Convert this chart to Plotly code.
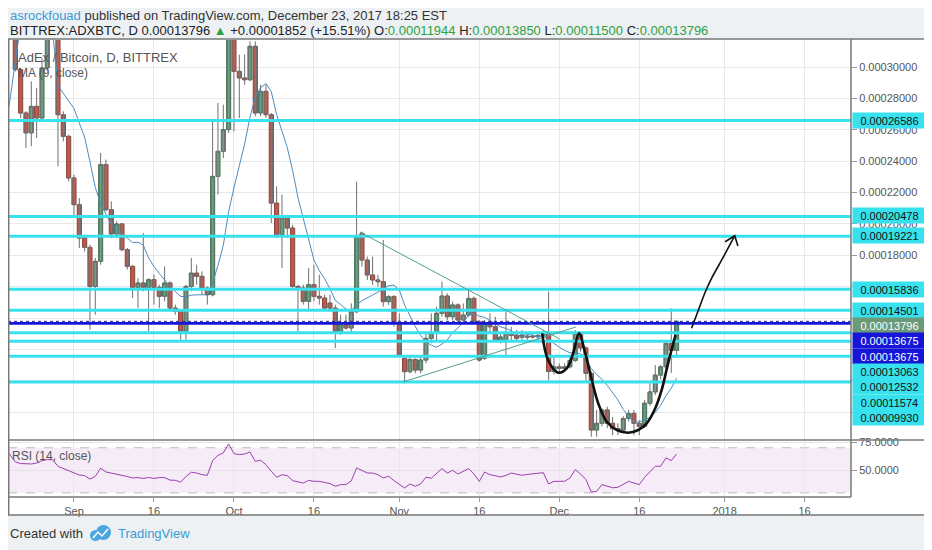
"""
AdEx / Bitcoin (BITTREX:ADXBTC) daily chart with drawn levels, rebuilt in Plotly.
"""

import pandas as pd
import plotly.graph_objects as go

FIRST_DAY = pd.Timestamp("2017-08-21")
SAT = 1e-8  # prices below are in satoshi

# ── Daily candles, Aug 21 .. Dec 23 2017 (satoshi) ─────────────────────────

opens = [
    32700, 29830, 27070, 25800, 27490, 26750, 29940, 32490, 32900, 26960,
    25580, 22930, 21230, 19100, 18510, 16020, 17620, 23780, 20910, 19360,
    20000, 18360, 17300, 15960, 16240, 15960, 16450, 15960, 15390, 16240,
    14640, 14430, 13160, 16020, 16870, 16660, 15920, 15490, 23030, 24630,
    26010, 32490, 29720, 29300, 29190, 31320, 27070, 28450, 26960, 21330,
    19320, 20380, 19740, 16020, 15920, 15070, 16130, 15390, 15280, 14960,
    14640, 13160, 13580, 13370, 14410, 19400, 17700, 16750, 16430, 16320,
    15050, 15370, 13670, 11440, 10590, 11370, 10690, 11330, 12710, 13030,
    14310, 15410, 14090, 14840, 13880, 14200, 15260, 13770, 11440, 13670,
    13450, 12600, 12500, 13030, 12920, 12930, 12780, 12850, 12800, 12900,
    13030, 10600, 10900, 10800, 10900, 11300, 13030, 12100, 10480, 6870,
    7300, 8150, 7300, 6950, 6870, 7600, 7930, 7300, 7100, 8580,
    9300, 10370, 10900, 12390, 11944,
]
highs = [
    33550, 29940, 27180, 29090, 28660, 30570, 33120, 33760, 33120, 27180,
    25690, 23140, 21650, 19320, 18680, 17830, 24520, 24100, 21440, 20170,
    20060, 18470, 17400, 16550, 19420, 16550, 16770, 16130, 17300, 16340,
    14860, 14540, 16130, 17830, 17400, 16980, 16020, 26540, 27710, 27600,
    33120, 33120, 30790, 30790, 31640, 31640, 28870, 28870, 27070, 22400,
    21870, 20590, 19950, 16130, 16130, 17190, 17400, 16770, 15490, 15490,
    14860, 14220, 14220, 14940, 22700, 19510, 17920, 17920, 16750, 18980,
    15470, 15470, 14310, 11540, 11540, 11440, 11540, 13030, 14300, 14730,
    16330, 15580, 15050, 14940, 14940, 15900, 15370, 13880, 13880, 14300,
    14090, 13030, 14410, 13450, 13240, 13240, 13030, 13100, 13030, 13240,
    15690, 11550, 11120, 11120, 11550, 13240, 13100, 12200, 10600, 8150,
    8250, 8360, 7700, 7300, 7750, 8150, 8150, 7500, 8780, 9850,
    11010, 11020, 12610, 14620, 13850,
]
lows = [
    29720, 26750, 24840, 24950, 25480, 26540, 29720, 32000, 23670, 25260,
    22720, 20590, 18470, 18250, 13260, 14220, 17400, 20800, 19100, 19100,
    18250, 17090, 15280, 14640, 15710, 13160, 14860, 14640, 15070, 14540,
    14220, 12630, 12630, 15710, 16130, 15490, 14860, 15390, 21870, 24200,
    25800, 25900, 26750, 28870, 29090, 26860, 26860, 26750, 20060, 19100,
    17190, 19100, 15920, 13160, 14860, 14430, 15070, 14860, 14540, 14430,
    12100, 12940, 13260, 13030, 14300, 17280, 16430, 16110, 16000, 14730,
    14840, 13450, 11540, 9840, 10480, 10480, 10480, 11120, 12400, 12500,
    14090, 13880, 13880, 13670, 13770, 14090, 13670, 11230, 11330, 13030,
    12500, 12390, 11650, 12600, 12500, 12600, 12600, 12700, 12600, 12700,
    10060, 10400, 10480, 10590, 10800, 11200, 11860, 10000, 6450, 6450,
    7100, 7000, 6550, 6550, 6700, 7400, 6550, 6550, 7000, 8400,
    9100, 10100, 10700, 10500, 11500,
]
closes = [
    29830, 27070, 25800, 27490, 26750, 29940, 32490, 32900, 26960, 25580,
    22930, 21230, 19100, 18510, 16020, 17620, 23780, 20910, 19360, 20000,
    18360, 17300, 15960, 16240, 15960, 16450, 15960, 15390, 16240, 14640,
    14430, 13160, 16020, 16870, 16660, 15920, 15490, 23030, 24630, 26010,
    32490, 29720, 29300, 29190, 31320, 27070, 28450, 26960, 21330, 19320,
    20380, 19740, 16020, 15920, 15070, 16130, 15390, 15280, 14640, 14640,
    13160, 13580, 13370, 14410, 19190, 17700, 16750, 16430, 16320, 15050,
    15370, 13670, 11650, 10590, 11370, 10690, 11330, 12710, 13030, 14310,
    15410, 14090, 14840, 13880, 14200, 15260, 13770, 11330, 13670, 13450,
    12600, 12800, 13030, 12900, 12710, 12780, 12850, 12800, 12900, 13030,
    10600, 10900, 10800, 10900, 11300, 13030, 12100, 10480, 6870, 7300,
    8150, 7300, 6950, 6870, 7600, 7930, 7300, 7100, 8580, 9300,
    10370, 10900, 12390, 11944, 13796,
]

# MA(9) before nine visible closes exist, Aug 19 .. Aug 28
ma_head = [26000, 27900, 30350, 32700, 34000, 34600, 34500, 34000, 33200, 32300]

# RSI(14), Aug 19 .. Dec 23
rsi = [
    70, 64, 57.5, 56, 55.9, 55.6, 56.5, 58.6, 59.5, 59.3, 53.5,
    51.5, 50, 48, 45.8, 45.3, 42.2, 44.7, 51.8, 48.5, 47.6,
    46.4, 45.5, 44.5, 43.2, 43.5, 42.8, 43.6, 42.8, 43.5, 43.5,
    41.3, 41.1, 39.5, 44.5, 48.3, 47.6, 46.2, 45.5, 58.6, 63.3,
    65.4, 73.4, 64.8, 63.9, 64.5, 66.3, 58, 58.9, 55, 49.1,
    43.8, 46.1, 45.3, 40.8, 39.6, 38.7, 41.1, 40.2, 40.2, 39.3,
    38.2, 35.8, 37.3, 37.3, 40.6, 52.1, 49.7, 47.6, 47.6, 46.1,
    43.2, 44.7, 40.8, 37.3, 34.3, 37.9, 35.8, 37.9, 43.8, 43,
    47.6, 51.5, 47.6, 50, 46.7, 49.1, 51.5, 46.7, 40.2, 48.5,
    46.1, 45.2, 44.1, 45.5, 47.6, 46.5, 45.6, 46.3, 47, 47.4,
    47.9, 37.9, 40.2, 40.2, 40.3, 43.2, 50.6, 46.7, 41.7, 30.7,
    31.3, 37.3, 35.8, 34.5, 34.9, 37.9, 40.2, 38.7, 37.3, 43.8,
    48.5, 53.6, 53.6, 61, 58.6, 64.5,
]

# horizontal levels drawn by the author (satoshi)
cyan_levels = [26586, 20478, 19221, 15836, 14501, 13063, 12532, 11574, 9930]
blue_levels = [13675, 13675]
last_price = 13796

# hand drawings, x in days after Aug 21
tri_upper_day = [64.6, 102.1]
tri_upper_sat = [19490, 12670]
tri_lower_day = [72.7, 105.1]
tri_lower_sat = [9931, 13435]
cup_day = [98.8, 99.9, 101.8, 103.4, 104.6, 105.7, 106.8, 108.1, 109.3,
           110.9, 112.8, 114.9, 116.8, 118.4, 120.0, 121.2, 122.4, 123.8]
cup_sat = [13034, 11333, 10524, 10804, 11760, 13034, 11862, 10059, 8574,
           7402, 6874, 6701, 6874, 7300, 8256, 9422, 11122, 12926]
arrow_day = [126.8, 128.1, 129.3, 130.6, 132.8, 134.9]
arrow_sat = [13352, 14519, 15600, 16560, 17914, 19252]
arrow_head_day = [133.1, 134.9, 135.5]
arrow_head_sat = [18870, 19252, 18596]

price_ticks = [8000, 10000, 12000, 14000, 16000, 18000, 20000, 22000,
               24000, 26000, 28000, 30000]
# labels that sit under the level tags are not drawn
price_labels = ["", "", "", "", "", "0.00018000", "0.00020000", "0.00022000",
                "0.00024000", "0.00026000", "0.00028000", "0.00030000"]
time_ticks = ["2017-09-01", "2017-09-16", "2017-10-01", "2017-10-16",
              "2017-11-01", "2017-11-16", "2017-12-01", "2017-12-16",
              "2018-01-01", "2018-01-16"]
time_labels = ["Sep", "16", "Oct", "16", "Nov", "16", "Dec", "16", "2018", "16"]

# ── Geometry (pixels as seen on the 932 x 550 page) ────────────────────────

OFF = 8                      # the page body shifts the figure by 8 px
W, H = 932 - OFF, 550 - OFF
PL, PR, PT, PB = 8, 851, 40, 497
SPLIT = 440
FONT = "Liberation Sans"
CYAN = "#38e1ee"
BLUE = "#1616d8"
GREEN_TXT = "#2ea043"
FRAME = "#777777"
BODY_MS = 0.78 * 86400000    # candle body width


def px(x):
    return (x - PL) / (PR - PL)


def py(y):
    return (PB - y) / (PB - PT)


def btc(vals):
    return [v * SAT for v in vals]


def days(vals):
    return [FIRST_DAY + pd.Timedelta(days=d) for d in vals]


X_LEFT = FIRST_DAY + pd.Timedelta(days=-1.37)
X_RIGHT = FIRST_DAY + pd.Timedelta(days=156.7)

dates = days(range(len(closes)))
ind_dates = days(range(-2, len(closes)))
ma = ma_head + list(pd.Series(closes).rolling(9).mean()[8:])

fig = go.Figure()

# wicks from the candlestick trace, wider bodies drawn on top as bars
fig.add_trace(go.Candlestick(
    x=dates, open=btc(opens), high=btc(highs), low=btc(lows), close=btc(closes),
    increasing=dict(line=dict(color="#6f6f6f", width=1), fillcolor="#6ba583"),
    decreasing=dict(line=dict(color="#6f6f6f", width=1), fillcolor="#d75442"),
    whiskerwidth=0, showlegend=False, hoverinfo="skip",
))
for up, fill, edge in [(True, "#6ba583", "#2f5e3e"), (False, "#d75442", "#6b241b")]:
    idx = [i for i in range(len(closes)) if (closes[i] >= opens[i]) == up]
    fig.add_trace(go.Bar(
        x=[dates[i] for i in idx],
        y=[max(abs(closes[i] - opens[i]), 40) * SAT for i in idx],
        base=[min(opens[i], closes[i]) * SAT for i in idx],
        width=BODY_MS, marker=dict(color=fill, line=dict(color=edge, width=0.8)),
        hoverinfo="skip",
    ))
fig.add_trace(go.Scatter(
    x=ind_dates, y=btc(ma), mode="lines",
    line=dict(color="#4a8cc4", width=1), hoverinfo="skip",
))

# author's horizontal levels, over the candles
for lvl in cyan_levels:
    fig.add_trace(go.Scatter(x=[X_LEFT, X_RIGHT], y=btc([lvl, lvl]), mode="lines",
                             line=dict(color=CYAN, width=3), hoverinfo="skip"))
for lvl in blue_levels:
    fig.add_trace(go.Scatter(x=[X_LEFT, X_RIGHT], y=btc([lvl, lvl]), mode="lines",
                             line=dict(color=BLUE, width=2.5), hoverinfo="skip"))
fig.add_trace(go.Scatter(x=[X_LEFT, X_RIGHT], y=btc([last_price, last_price]),
                         mode="lines", line=dict(color="#26268a", width=1, dash="dot"),
                         hoverinfo="skip"))

# triangle, cup & handle, target arrow
for d, s in [(tri_upper_day, tri_upper_sat), (tri_lower_day, tri_lower_sat)]:
    fig.add_trace(go.Scatter(x=days(d), y=btc(s), mode="lines",
                             line=dict(color="#4f9f8c", width=1), hoverinfo="skip"))
fig.add_trace(go.Scatter(x=days(cup_day), y=btc(cup_sat), mode="lines",
                         line=dict(color="#111111", width=2.6, shape="spline"),
                         hoverinfo="skip"))
fig.add_trace(go.Scatter(x=days(arrow_day), y=btc(arrow_sat), mode="lines",
                         line=dict(color="#111111", width=1.6, shape="spline"),
                         hoverinfo="skip"))
fig.add_trace(go.Scatter(x=days(arrow_head_day), y=btc(arrow_head_sat), mode="lines",
                         line=dict(color="#111111", width=1.6), hoverinfo="skip"))

fig.add_trace(go.Scatter(
    x=ind_dates, y=rsi, mode="lines", xaxis="x2", yaxis="y2",
    line=dict(color="#9c3fb0", width=1), hoverinfo="skip",
))

common_x = dict(
    type="date", range=[X_LEFT, X_RIGHT], tickvals=time_ticks,
    showgrid=True, gridcolor="#e8e8e8", gridwidth=1, zeroline=False,
    showline=False, fixedrange=True,
)

fig.update_layout(
    width=W, height=H,
    margin=dict(l=PL - OFF, r=W - (PR - OFF), t=PT - OFF, b=H - (PB - OFF), pad=0),
    paper_bgcolor="#eef1f4", plot_bgcolor="white",
    showlegend=False, hovermode=False, barmode="overlay",
    font=dict(family=FONT, color="#555555", size=11),
    xaxis=dict(common_x, anchor="y", showticklabels=False,
               rangeslider=dict(visible=False), domain=[0, 1]),
    xaxis2=dict(common_x, anchor="y2", matches="x", ticktext=time_labels,
                ticks="outside", ticklen=4, tickcolor="#999999",
                tickfont=dict(size=11, color="#555555"), domain=[0, 1]),
    yaxis=dict(domain=[py(SPLIT), 1], anchor="x", side="right",
               range=btc([6236, 31720]), tickvals=btc(price_ticks),
               ticktext=price_labels, ticks="outside", ticklen=5, tickcolor="#999999",
               tickfont=dict(size=11, color="#555555"),
               showgrid=True, gridcolor="#e8e8e8", zeroline=False, fixedrange=True),
    yaxis2=dict(domain=[0, py(SPLIT + 1)], anchor="x2", side="right",
                range=[26.3, 76], tickvals=[50, 75], tickformat=".4f",
                ticks="outside", ticklen=5, tickcolor="#999999",
                tickfont=dict(size=11, color="#555555"),
                showgrid=True, gridcolor="#e3e3e3", zeroline=False, fixedrange=True),
)

shapes = [
    # white chart box
    dict(type="rect", xref="paper", yref="paper", x0=px(8), x1=px(928),
         y0=py(515), y1=py(39), fillcolor="white", line=dict(width=0), layer="below"),
    # RSI band and its 70 / 30 guides
    dict(type="rect", xref="paper", yref="y2", x0=0, x1=1, y0=30, y1=70,
         fillcolor="rgba(156, 39, 176, 0.09)", line=dict(width=0), layer="below"),
]
for lvl in [70, 30]:
    shapes.append(dict(type="line", xref="paper", yref="y2", x0=0, x1=1, y0=lvl, y1=lvl,
                       line=dict(color="#bdbdbd", width=1, dash="dash"), layer="below"))
# frame and pane separators
frame = [
    (8, 39, 928, 39), (8, 515, 928, 515), (8.7, 39, 8.7, 515), (928, 39, 928, 515),
    (851, 39, 851, 497), (8, 440, 928, 440), (8, 497, 851, 497),
]
for x0, y0, x1, y1 in frame:
    shapes.append(dict(type="line", xref="paper", yref="paper", x0=px(x0), x1=px(x1),
                       y0=py(y0), y1=py(y1), line=dict(color=FRAME, width=1.5),
                       layer="above"))
# TradingView logo (cloud)
shapes += [
    dict(type="circle", xref="paper", yref="paper", x0=px(90), x1=px(101),
         y0=py(541), y1=py(530), fillcolor="#4aa6de", line=dict(width=0)),
    dict(type="circle", xref="paper", yref="paper", x0=px(96), x1=px(111),
         y0=py(540), y1=py(525), fillcolor="#4aa6de", line=dict(width=0)),
    dict(type="path", xref="paper", yref="paper",
         path=f"M{px(93)},{py(538)} L{px(98)},{py(532)} L{px(102)},{py(536)} L{px(108)},{py(529)}",
         line=dict(color="white", width=1.5)),
]
fig.update_layout(shapes=shapes)

annotations = []


def note(text, x, y, size=12, color="#333333", **kw):
    annotations.append(dict(text=text, xref="paper", yref="paper", x=px(x), y=py(y),
                            xanchor=kw.pop("xanchor", "left"), yanchor="middle",
                            showarrow=False, font=dict(family=FONT, size=size, color=color),
                            **kw))


def green(v):
    return f'<span style="color:{GREEN_TXT}">{v}</span>'


chg = closes[-1] - opens[-1]
note('<span style="color:#3a9bd6">asrockfouad</span> published on TradingView.com, '
     'December 23, 2017 18:25 EST', 8, 15.5, size=13)
note(f"BITTREX:ADXBTC, D {closes[-1] * SAT:.8f} {green('▲')} +{chg * SAT:.8f} "
     f"(+{chg / opens[-1] * 100:.2f}%) "
     f"O:{green(f'{opens[-1] * SAT:.8f}')} H:{green(f'{highs[-1] * SAT:.8f}')} "
     f"L:{green(f'{lows[-1] * SAT:.8f}')} C:{green(f'{closes[-1] * SAT:.8f}')}",
     8, 30, size=13, color="#222222")
note("AdEx / Bitcoin, D, BITTREX", 16, 57, size=13, color="#555555")
note("MA (9, close)", 16, 73, size=12, color="#555555")
note("RSI (14, close)", 10, 456, size=12, color="#555555")
note("Created with", 8, 533, size=13, color="#333333")
note("TradingView", 116, 533, size=13, color="#3a9bd6")

# price tags on the axis (stacked like TradingView does)
tags = [
    (cyan_levels[0], 120.6, CYAN, "#111111"),
    (cyan_levels[1], 216, CYAN, "#111111"),
    (cyan_levels[2], 235.7, CYAN, "#111111"),
    (cyan_levels[3], 289.3, CYAN, "#111111"),
    (cyan_levels[4], 310.2, CYAN, "#111111"),
    (last_price, 325.5, "#6c9a79", "white"),
    (blue_levels[0], 340.8, BLUE, "white"),
    (blue_levels[1], 356.1, BLUE, "white"),
    (cyan_levels[5], 371.4, CYAN, "#111111"),
    (cyan_levels[6], 386.7, CYAN, "#111111"),
    (cyan_levels[7], 402, CYAN, "#111111"),
    (cyan_levels[8], 417.3, CYAN, "#111111"),
]
for val, ypx, bg, fg in tags:
    note(f"{val * SAT:.8f}", 852, ypx, size=11, color=fg, bgcolor=bg,
         width=73, height=15, borderpad=0, align="center")

fig.update_layout(annotations=annotations)

fig.write_html("out.html")
